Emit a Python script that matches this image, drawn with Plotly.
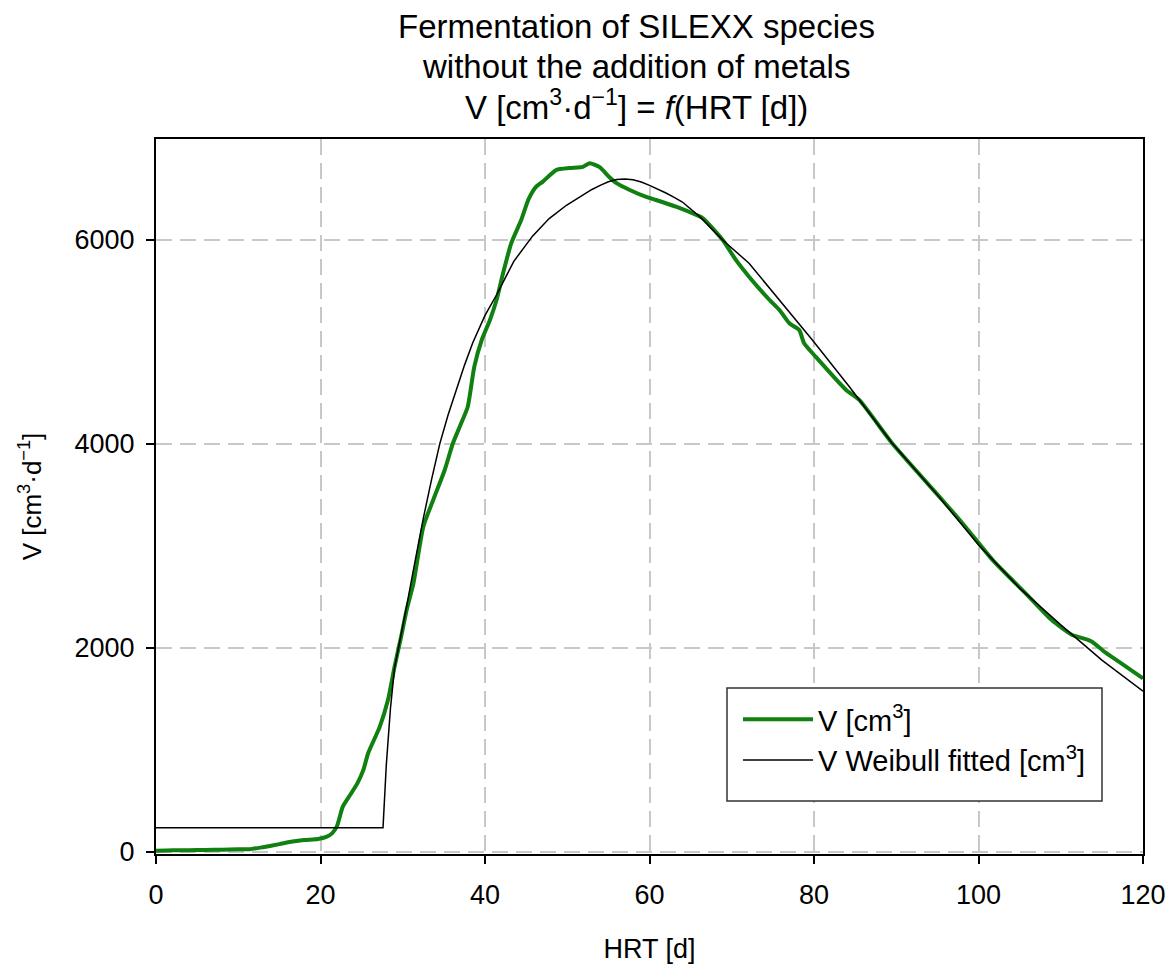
import plotly.graph_objects as go

# Measured curve: V [cm3]
v_x = [0, 2, 4, 6, 8, 10, 11.4, 13, 15, 16.6, 18, 19.7, 20.7, 21.4, 22.0, 22.7, 23.6, 24.5,
       25.2, 25.8, 27.2, 28.2, 29.0, 29.8, 30.5, 31.3, 32.5, 33.7, 35.1, 36.1, 37.1, 37.9,
       38.7, 39.6, 40.6, 41.4, 42.2, 43.2, 44.4, 45.3, 46.2, 47.0, 48.7, 50.3, 51.9, 52.7, 53.9,
       55.1, 56.0, 57.6, 59.6, 60.8, 63.3, 65.7, 66.5, 68.9, 70.5, 72.1, 74.6, 75.8, 77.0,
       78.2, 78.8, 80.2, 83.9, 85.5, 89.5, 95.6, 98.4, 101.7, 104.1, 105.7, 108.9, 111.4,
       113.0, 113.8, 115.5, 117.1, 120]
v_y = [10, 15, 15, 18, 20, 25, 25, 45, 75, 100, 115, 125, 145, 180, 250, 440, 556, 673,
       800, 968, 1225, 1488, 1813, 2109, 2380, 2633, 3188, 3450, 3744, 4006, 4202, 4365,
       4757, 5019, 5215, 5411, 5675, 5970, 6195, 6400, 6520, 6570, 6687, 6705, 6716, 6753, 6716,
       6618, 6557, 6490, 6422, 6392, 6324, 6245, 6213, 6000, 5804, 5640, 5411, 5313, 5183,
       5117, 4987, 4855, 4529, 4431, 4006, 3450, 3188, 2863, 2665, 2537, 2272, 2125,
       2086, 2060, 1950, 1862, 1700]

# Weibull fitted curve
w_x = [0, 27.6, 28.0, 28.5, 29.0, 29.8, 30.5, 31.5, 32.5, 33.5, 34.5, 35.5, 36.5, 37.5,
       38.5, 40.0, 41.4, 43.5, 45.8, 47.8, 49.9, 52.0, 53.0, 54.0, 55.0, 56.0, 57.0, 58.0,
       59.0, 60.0, 61.0, 62.0, 63.0, 64.0, 66.1, 68.9, 72.1, 75.4, 79.8, 84.3, 89.5, 95.0,
       100.0, 105.0, 110.0, 115.0, 120.0]
w_y = [235, 235, 850, 1400, 1800, 2120, 2420, 2850, 3270, 3650, 4000, 4280, 4530, 4770,
       4990, 5260, 5460, 5790, 6040, 6210, 6340, 6450, 6495, 6535, 6570, 6592, 6598, 6590,
       6568, 6535, 6500, 6460, 6418, 6372, 6229, 6000, 5771, 5444, 5019, 4561, 4006, 3500,
       3010, 2585, 2225, 1880, 1575]

x_ticks = [0, 20, 40, 60, 80, 100, 120]
y_ticks = [0, 2000, 4000, 6000]

title_lines = ["Fermentation of SILEXX species",
               "without the addition of metals",
               "V [cm<sup>3</sup>·d<sup>−1</sup>] = <i>f</i>(HRT [d])"]

FONT = "Liberation Sans, Arial, sans-serif"

fig = go.Figure()
fig.add_trace(go.Scatter(x=v_x, y=v_y, mode="lines", name="V [cm<sup>3</sup>]",
                         line=dict(color="rgb(16,128,16)", width=4, shape="spline", smoothing=0.6)))
fig.add_trace(go.Scatter(x=w_x, y=w_y, mode="lines", name="V Weibull fitted [cm<sup>3</sup>]",
                         line=dict(color="black", width=1.5)))

axis_common = dict(
    showline=True, linecolor="black", linewidth=2, mirror=True,
    ticks="outside", ticklen=8, tickwidth=1.5, tickcolor="black",
    showgrid=True, gridcolor="#c8c8c8", gridwidth=1.5, griddash="16px,8px",
    zeroline=False, automargin=False,
    tickfont=dict(family=FONT, size=27, color="black"),
)

fig.update_xaxes(range=[0, 120], tickvals=x_ticks, ticklabelstandoff=8,
                 title=dict(text="HRT [d]", font=dict(family=FONT, size=27, color="black"), standoff=30),
                 **axis_common)
fig.update_yaxes(range=[-22, 6990], tickvals=y_ticks, ticklabelstandoff=6,
                 title=dict(text="V [cm<sup>3</sup>·d<sup>−1</sup>]", font=dict(family=FONT, size=26, color="black"),
                            standoff=25),
                 **axis_common)

# three title lines (tight line spacing as in the reference)
for i, line in enumerate(title_lines):
    fig.add_annotation(
        text=line, xref="paper", yref="paper", x=(636 - 156) / 987,
        y=(854 - (27 + 39 * i)) / 715, xanchor="center", yanchor="middle",
        showarrow=False, font=dict(family=FONT, size=33, color="black"))

# legend frame
fig.add_shape(type="rect", xref="paper", yref="paper",
              x0=(727 - 156) / 987, x1=(1102 - 156) / 987,
              y0=(854 - 801) / 715, y1=(854 - 688) / 715,
              line=dict(color="#333333", width=1.5), fillcolor="white", layer="above")

fig.update_layout(
    width=1172, height=965,
    margin=dict(l=156, r=29, t=139, b=111),
    paper_bgcolor="white", plot_bgcolor="white",
    legend=dict(x=(738 - 156) / 987, y=(854 - 694) / 715, xanchor="left", yanchor="top",
                bgcolor="rgba(0,0,0,0)", borderwidth=0,
                font=dict(family=FONT, size=29, color="black"),
                itemwidth=70, tracegroupgap=4),
    showlegend=True,
)

fig.write_html("out.html")
